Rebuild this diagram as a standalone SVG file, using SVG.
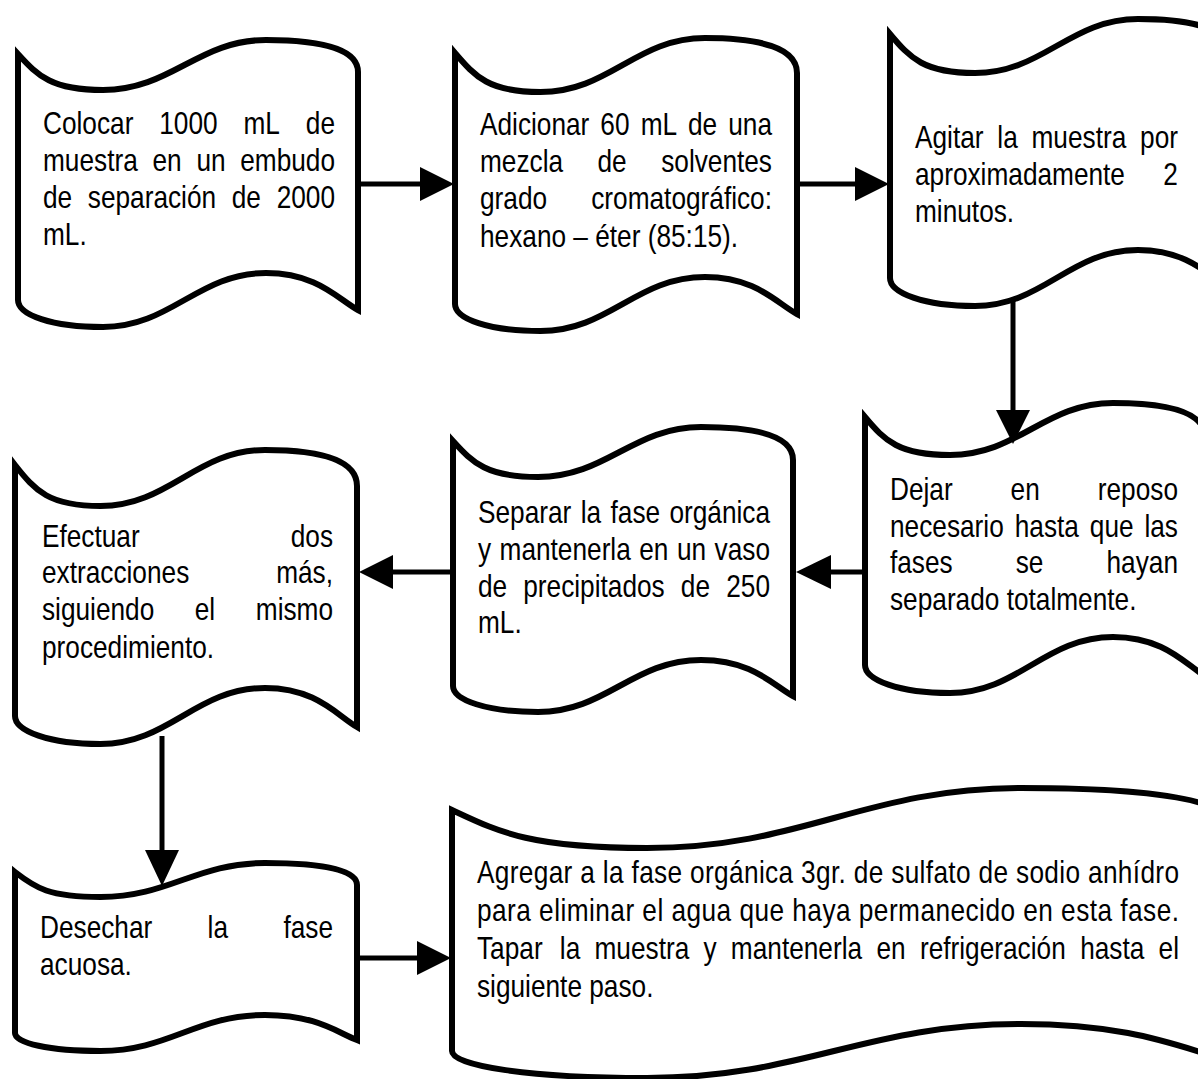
<svg xmlns="http://www.w3.org/2000/svg" width="1198" height="1079" viewBox="0 0 1198 1079">
  <style>
    .tape { fill: #fff; stroke: #000; stroke-width: 6; }
    .conn line { stroke: #000; stroke-width: 5; }
    .conn polygon { fill: #000; }
    text { font-family: 'Liberation Sans', Arial, sans-serif; font-size: 32px; fill: #000; }
    .e { text-anchor: end; }
  </style>
  <rect width="1198" height="1079" fill="#fff"/>

  <!-- step 1 -->
  <g id="n1">
    <path class="tape" d="M18,54 C38,76 52,90 103,90 C171,90 198,40 266,40 C324,40 358,50 358,72 L358,310 C338,299 317,273 266,273 C198,273 171,327 103,327 C52,327 18,315 18,300 Z"/>
    <!-- narrow type: horizontal 0.82 scale from the text's left margin -->
    <g transform="matrix(0.82,0,0,1,43,0)">
      <text y="134"><tspan x="0">Colocar </tspan><tspan x="141.8">1000 </tspan><tspan x="244.5">mL </tspan><tspan x="356.1" class="e">de</tspan></text>
      <text y="171"><tspan x="0">muestra </tspan><tspan x="133.5">en </tspan><tspan x="187.1">un </tspan><tspan x="356.1" class="e">embudo</tspan></text>
      <text y="208"><tspan x="0">de </tspan><tspan x="54.6">separación </tspan><tspan x="230.2">de </tspan><tspan x="356.1" class="e">2000</tspan></text>
      <text x="0" y="245">mL.</text>
    </g>
  </g>

  <!-- step 2 -->
  <g id="n2">
    <path class="tape" d="M455,53 C475.5,77 489,92 540.5,92 C609,92 636,38 705,38 C763,38 797,49 797,73 L797,314 C776.5,303 756,277 705,277 C636,277 609,331 540.5,331 C489,331 455,319 455,304 Z"/>
    <g transform="matrix(0.82,0,0,1,480,0)">
      <text y="135"><tspan x="0">Adicionar </tspan><tspan x="146.8">60 </tspan><tspan x="195.9">mL </tspan><tspan x="253.7">de </tspan><tspan x="356.1" class="e">una</tspan></text>
      <text y="172"><tspan x="0">mezcla </tspan><tspan x="143.3">de </tspan><tspan x="356.1" class="e">solventes</tspan></text>
      <text y="209"><tspan x="0">grado </tspan><tspan x="356.1" class="e">cromatográfico:</tspan></text>
      <text x="0" y="247">hexano – éter (85:15).</text>
    </g>
  </g>

  <!-- step 3 -->
  <g id="n3">
    <path class="tape" d="M890,34 C910,58 924,73 975,73 C1043,73 1070,19 1138,19 C1196,19 1230,30 1230,54 L1230,289 C1210,277 1189,250 1138,250 C1070,250 1043,306 975,306 C924,306 890,293 890,278 Z"/>
    <g transform="matrix(0.82,0,0,1,915,0)">
      <text y="148"><tspan x="0">Agitar </tspan><tspan x="100.4">la </tspan><tspan x="142.1">muestra </tspan><tspan x="320.7" class="e">por</tspan></text>
      <text y="185"><tspan x="0">aproximadamente </tspan><tspan x="320.7" class="e">2</tspan></text>
      <text x="0" y="222">minutos.</text>
    </g>
  </g>

  <!-- step 4 -->
  <g id="n4">
    <path class="tape" d="M865,417 C885,441 899,455 950,455 C1018,455 1045,403 1113,403 C1171,403 1205,413 1205,437 L1205,676 C1185,664 1164,637 1113,637 C1045,637 1018,693 950,693 C899,693 865,680 865,665 Z"/>
    <g transform="matrix(0.82,0,0,1,890,0)">
      <text y="500"><tspan x="0">Dejar </tspan><tspan x="147.1">en </tspan><tspan x="351.2" class="e">reposo</tspan></text>
      <text y="537"><tspan x="0">necesario </tspan><tspan x="152.1">hasta </tspan><tspan x="243.7">que </tspan><tspan x="351.2" class="e">las</tspan></text>
      <text y="573"><tspan x="0">fases </tspan><tspan x="153.3">se </tspan><tspan x="351.2" class="e">hayan</tspan></text>
      <text x="0" y="610">separado totalmente.</text>
    </g>
  </g>

  <!-- step 5 -->
  <g id="n5">
    <path class="tape" d="M453,441 C473,463 487,477 538,477 C606,477 633,427 701,427 C759,427 793,437 793,460 L793,696 C773,685 752,660 701,660 C633,660 606,712 538,712 C487,712 453,700 453,686 Z"/>
    <g transform="matrix(0.82,0,0,1,478,0)">
      <text y="523"><tspan x="0">Separar </tspan><tspan x="125.2">la </tspan><tspan x="161.6">fase </tspan><tspan x="356.1" class="e">orgánica</tspan></text>
      <text y="560"><tspan x="0">y </tspan><tspan x="26.3">mantenerla </tspan><tspan x="196.7">en </tspan><tspan x="242.7">un </tspan><tspan x="356.1" class="e">vaso</tspan></text>
      <text y="597"><tspan x="0">de </tspan><tspan x="55.2">precipitados </tspan><tspan x="247.4">de </tspan><tspan x="356.1" class="e">250</tspan></text>
      <text x="0" y="633">mL.</text>
    </g>
  </g>

  <!-- step 6 -->
  <g id="n6">
    <path class="tape" d="M15,465 C35.5,491 49,506 100.5,506 C169,506 196,450 265,450 C323,450 357,461 357,486 L357,727 C336.5,715 316,688 265,688 C196,688 169,744 100.5,744 C49,744 15,731 15,716 Z"/>
    <g transform="matrix(0.82,0,0,1,42,0)">
      <text y="547"><tspan x="0">Efectuar </tspan><tspan x="354.9" class="e">dos</tspan></text>
      <text y="583"><tspan x="0">extracciones </tspan><tspan x="354.9" class="e">más,</tspan></text>
      <text y="620"><tspan x="0">siguiendo </tspan><tspan x="186.3">el </tspan><tspan x="354.9" class="e">mismo</tspan></text>
      <text x="0" y="658">procedimiento.</text>
    </g>
  </g>

  <!-- step 7 -->
  <g id="n7">
    <path class="tape" d="M15,872 C35.5,888 49,897 100.5,897 C169,897 196,863 265,863 C323,863 357,870 357,885 L357,1040 C336.5,1032 316,1015 265,1015 C196,1015 169,1051 100.5,1051 C49,1051 15,1043 15,1033 Z"/>
    <g transform="matrix(0.82,0,0,1,40,0)">
      <text y="938"><tspan x="0">Desechar </tspan><tspan x="204.4">la </tspan><tspan x="357.3" class="e">fase</tspan></text>
      <text x="0" y="975">acuosa.</text>
    </g>
  </g>

  <!-- step 8 -->
  <g id="n8">
    <path class="tape" d="M452,810 C499,832 530,848 647,848 C803,848 865,788 1021,788 C1154,788 1232,800 1232,827 L1232,1061 C1185,1050 1138,1024 1021,1024 C865,1024 803,1078 647,1078 C530,1078 452,1066 452,1051 Z"/>
    <g transform="matrix(0.82,0,0,1,477,0)">
      <text x="0" y="883" textLength="856.1" lengthAdjust="spacing">Agregar a la fase orgánica 3gr. de sulfato de sodio anhídro</text>
      <text x="0" y="921" textLength="856.1" lengthAdjust="spacing">para eliminar el agua que haya permanecido en esta fase.</text>
      <text y="959"><tspan x="0">Tapar </tspan><tspan x="101">la </tspan><tspan x="143.3">muestra </tspan><tspan x="276.2">y </tspan><tspan x="309.6">mantenerla </tspan><tspan x="487.2">en </tspan><tspan x="540.2">refrigeración </tspan><tspan x="735.6">hasta </tspan><tspan x="856.1" class="e">el</tspan></text>
      <text x="0" y="997">siguiente paso.</text>
    </g>
  </g>

  <!-- connectors -->
  <g id="connectors" class="conn">
    <line x1="358" y1="184" x2="424" y2="184"/>
    <polygon points="420,167 454,184 420,201"/>
    <line x1="797" y1="184" x2="859" y2="184"/>
    <polygon points="855,167 889,184 855,201"/>
    <line x1="1013" y1="300" x2="1013" y2="414"/>
    <polygon points="996,410 1030,410 1013,444"/>
    <line x1="865" y1="572" x2="827" y2="572"/>
    <polygon points="831,555 831,589 796,572"/>
    <line x1="453" y1="572" x2="389" y2="572"/>
    <polygon points="393,555 393,589 359,572"/>
    <line x1="162" y1="736" x2="162" y2="854"/>
    <polygon points="145,850 179,850 162,886"/>
    <line x1="357" y1="958" x2="421" y2="958"/>
    <polygon points="417,941 417,975 451,958"/>
  </g>
</svg>
